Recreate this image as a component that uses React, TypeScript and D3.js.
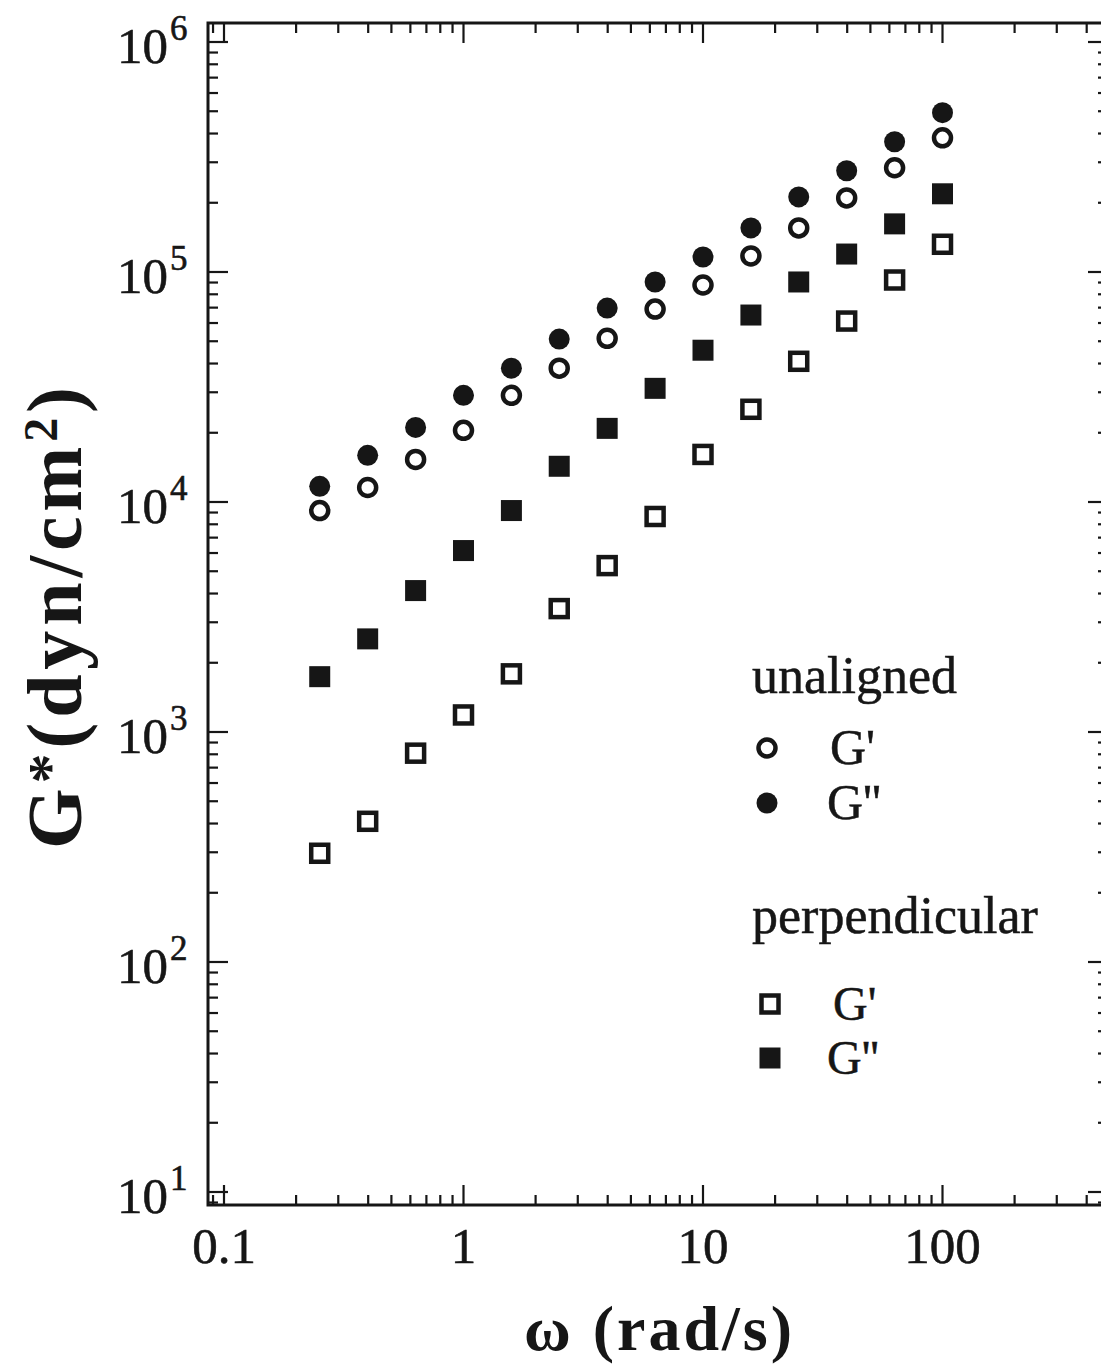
import React, { useEffect, useRef } from "react";
import * as d3 from "d3";

// angular frequency (rad/s)
const omega = [0.251, 0.398, 0.631, 1.0, 1.585, 2.51, 3.98, 6.31, 10.0, 15.85, 25.1, 39.8, 63.1, 100];

// unaligned sample
const unalignedGp = [9180, 11560, 15310, 20500, 29100, 38200, 51500, 69000, 87800, 117400, 155500, 210000, 284000, 383000];
const unalignedGpp = [11700, 15950, 21100, 29100, 38200, 51100, 69700, 90500, 116200, 155500, 212000, 275500, 368500, 493000];

// perpendicular sample
const perpGp = [297, 409, 809, 1186, 1790, 3440, 5290, 8650, 16100, 25300, 40900, 61200, 92300, 132000];
const perpGpp = [1740, 2540, 4120, 6150, 9180, 14300, 20900, 31200, 45700, 65000, 90500, 119700, 161900, 218800];

const xTickValues = [0.1, 1, 10, 100];
const xTickLabels = ["0.1", "1", "10", "100"];
const yTickExponents = [1, 2, 3, 4, 5, 6];

const W = 1101;
const H = 1369;
const FONT = "'Liberation Serif', 'Times New Roman', serif";
const INK = "#161616";

export default function App() {
	const ref = useRef<SVGSVGElement>(null);

	useEffect(() => {
		const svg = d3.select(ref.current);
		svg.selectAll("*").remove();

		const x = d3.scaleLog().domain([0.1, 100]).range([224, 942.5]);
		const y = d3.scaleLog().domain([10, 1e5]).range([1192, 272]);

		const left = 208;
		const right = 1108;
		const top = 23;
		const bottom = 1205;

		const xLo = x.invert(left);
		const xHi = x.invert(right);
		const yLo = y.invert(bottom);
		const yHi = y.invert(top);

		const logTicks = (lo: number, hi: number) => {
			const out: { v: number; major: boolean }[] = [];
			for (let k = Math.floor(Math.log10(lo)); k <= Math.ceil(Math.log10(hi)); k++) {
				for (let m = 1; m <= 9; m++) {
					const v = m * Math.pow(10, k);
					if (v >= lo && v <= hi) out.push({ v, major: m === 1 });
				}
			}
			return out;
		};

		const xt = logTicks(xLo, xHi);
		const yt = logTicks(yLo, yHi);

		const g = svg.append("g");

		// frame
		g.append("rect")
			.attr("x", left)
			.attr("y", top)
			.attr("width", right - left)
			.attr("height", bottom - top)
			.attr("fill", "none")
			.attr("stroke", INK)
			.attr("stroke-width", 3);

		const ticks = g.append("g").attr("stroke", INK).attr("stroke-width", 2.2);

		// bottom + top
		ticks.selectAll(".xb")
			.data(xt)
			.enter()
			.append("line")
			.attr("x1", (d) => x(d.v))
			.attr("x2", (d) => x(d.v))
			.attr("y1", bottom)
			.attr("y2", (d) => bottom - (d.major ? 20 : 10));
		ticks.selectAll(".xt")
			.data(xt)
			.enter()
			.append("line")
			.attr("x1", (d) => x(d.v))
			.attr("x2", (d) => x(d.v))
			.attr("y1", top)
			.attr("y2", (d) => top + (d.major ? 20 : 10));

		// left + right
		ticks.selectAll(".yl")
			.data(yt)
			.enter()
			.append("line")
			.attr("y1", (d) => y(d.v))
			.attr("y2", (d) => y(d.v))
			.attr("x1", left)
			.attr("x2", (d) => left + (d.major ? 20 : 10));
		ticks.selectAll(".yr")
			.data(yt)
			.enter()
			.append("line")
			.attr("y1", (d) => y(d.v))
			.attr("y2", (d) => y(d.v))
			.attr("x1", right)
			.attr("x2", (d) => right - (d.major ? 20 : 10));

		// x tick labels
		g.selectAll(".xl")
			.data(xTickValues)
			.enter()
			.append("text")
			.attr("x", (d) => x(d))
			.attr("y", bottom + 58)
			.attr("text-anchor", "middle")
			.attr("font-family", FONT)
			.attr("font-size", 51)
			.attr("fill", INK)
			.attr("stroke", INK)
			.attr("stroke-width", 0.6)
			.text((d, i) => xTickLabels[i]);

		// y tick labels, 10^n
		const yl = g.selectAll(".ylab")
			.data(yTickExponents)
			.enter()
			.append("g")
			.attr("transform", (d) => `translate(0, ${y(Math.pow(10, d))})`)
			.attr("fill", INK)
			.attr("stroke", INK)
			.attr("stroke-width", 0.6)
			.attr("font-family", FONT);
		yl.append("text")
			.attr("x", 168)
			.attr("y", 21)
			.attr("text-anchor", "end")
			.attr("font-size", 51)
			.text("10");
		yl.append("text")
			.attr("x", 170)
			.attr("y", -2)
			.attr("font-size", 35)
			.text((d) => String(d));

		// markers
		const series = [
			{ values: unalignedGp, shape: "circle", filled: false },
			{ values: unalignedGpp, shape: "circle", filled: true },
			{ values: perpGp, shape: "square", filled: false },
			{ values: perpGpp, shape: "square", filled: true }
		];

		const drawMarker = (sel: any, shape: string, filled: boolean) => {
			if (shape === "circle") {
				sel.append("circle")
					.attr("r", filled ? 10.5 : 8.5)
					.attr("fill", filled ? INK : "white")
					.attr("stroke", INK)
					.attr("stroke-width", filled ? 0 : 4.5);
			} else {
				const s = filled ? 21 : 17;
				sel.append("rect")
					.attr("x", -s / 2)
					.attr("y", -s / 2)
					.attr("width", s)
					.attr("height", s)
					.attr("fill", filled ? INK : "white")
					.attr("stroke", INK)
					.attr("stroke-width", filled ? 0 : 4.5);
			}
		};

		series.forEach((s) => {
			const pts = g.append("g")
				.selectAll("g")
				.data(s.values)
				.enter()
				.append("g")
				.attr("transform", (d, i) => `translate(${x(omega[i])}, ${y(d)})`);
			drawMarker(pts, s.shape, s.filled);
		});

		// legend
		const legend = g.append("g")
			.attr("font-family", FONT)
			.attr("fill", INK)
			.attr("stroke", INK)
			.attr("stroke-width", 0.5);
		legend.append("text").attr("x", 752).attr("y", 693).attr("font-size", 52).text("unaligned");
		legend.append("text").attr("x", 752).attr("y", 933).attr("font-size", 52).text("perpendicular");

		const entries = [
			{ label: "G'", shape: "circle", filled: false, cx: 767, cy: 748, tx: 830, fs: 50 },
			{ label: "G''", shape: "circle", filled: true, cx: 767, cy: 803, tx: 827, fs: 50 },
			{ label: "G'", shape: "square", filled: false, cx: 770, cy: 1004, tx: 833, fs: 48 },
			{ label: "G''", shape: "square", filled: true, cx: 770, cy: 1058, tx: 827, fs: 48 }
		];
		entries.forEach((e) => {
			const m = legend.append("g").attr("transform", `translate(${e.cx}, ${e.cy})`);
			drawMarker(m, e.shape, e.filled);
			legend.append("text")
				.attr("x", e.tx)
				.attr("y", e.cy + 16)
				.attr("font-size", e.fs)
				.text(e.label);
		});

		// axis titles
		g.append("text")
			.attr("x", 524)
			.attr("y", 1350)
			.attr("font-family", FONT)
			.attr("font-weight", "bold")
			.attr("font-size", 64)
			.attr("textLength", 268)
			.attr("lengthAdjust", "spacing")
			.attr("fill", INK)
			.text("\u03c9 (rad/s)");

		const yTitle = g.append("text")
			.attr("transform", "translate(81, 618) rotate(-90)")
			.attr("text-anchor", "middle")
			.attr("font-family", FONT)
			.attr("font-weight", "bold")
			.attr("font-size", 78)
			.attr("textLength", 462)
			.attr("lengthAdjust", "spacing")
			.attr("fill", INK);
		yTitle.append("tspan").text("G");
		yTitle.append("tspan").attr("dy", -12).attr("font-size", 60).text("*");
		yTitle.append("tspan").attr("dy", 12).text("(dyn/cm");
		yTitle.append("tspan").attr("dy", -24).attr("font-size", 48).text("2");
		yTitle.append("tspan").attr("dy", 24).text(")");
	}, []);

	return (
		<svg
			ref={ref}
			width={W}
			height={H}
			style={{ position: "absolute", left: 0, top: 0, background: "white" }}
		></svg>
	);
}
